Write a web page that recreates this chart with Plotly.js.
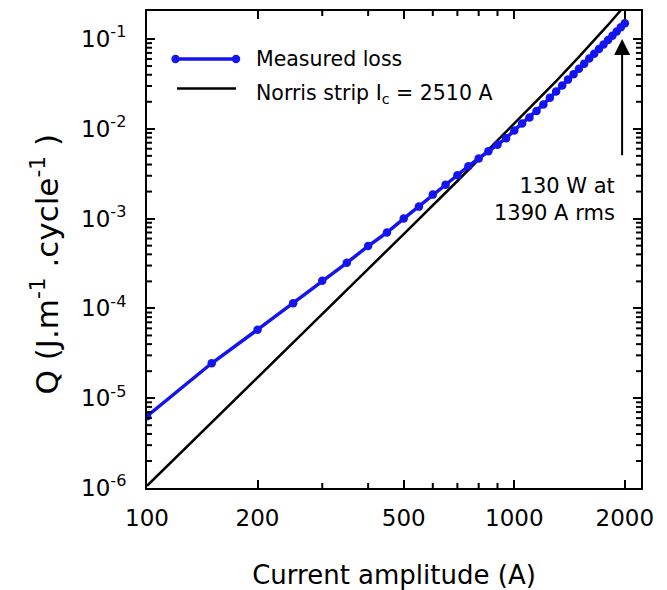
<!DOCTYPE html>
<html><head><meta charset="utf-8">
<script src="https://cdn.plot.ly/plotly-3.0.1.min.js"></script>
<style>html,body{margin:0;padding:0;background:#fff}</style>
</head><body><div id="chart" style="width:667px;height:590px"></div>
<script>
// ---- data ----
const measuredCurrent = [100,150,200,250,300,350,400,450,500,550,600,650,700,750,800,850,900,950,1000,1050,1100,1150,1200,1250,1300,1350,1400,1450,1500,1550,1600,1650,1700,1750,1800,1850,1900,1950,2000];
const measuredLoss = [6.3e-6,2.45e-5,5.8e-5,1.14e-4,2.03e-4,3.22e-4,4.95e-4,7.0e-4,1.0e-3,1.36e-3,1.85e-3,2.39e-3,3.04e-3,3.83e-3,4.68e-3,5.62e-3,6.65e-3,7.87e-3,9.6e-3,1.146e-2,1.34e-2,1.58e-2,1.87e-2,2.22e-2,2.61e-2,3.04e-2,3.53e-2,4.06e-2,4.66e-2,5.32e-2,6.05e-2,6.86e-2,7.72e-2,8.71e-2,9.77e-2,0.109,0.1216,0.135,0.150];
const norrisCurrent = [100,150,200,300,400,500,700,1000,1200,1300,1500,1600,1700,1800,1900,2000];
const norrisLoss = [1.058e-6,5.357e-6,1.6975e-5,8.62e-5,2.7367e-4,6.7205e-4,2.6231e-3,1.1317e-2,2.4236e-2,3.4025e-2,6.3122e-2,8.394e-2,0.11026,0.14339,0.18504,0.23548];
const xTickVals = [100,200,500,1000,2000];
const xTickText = ['100','200','500','1000','2000'];
const xMinorVals = [300,400,600,700,800,900];
const yTickVals = [1e-6,1e-5,1e-4,1e-3,1e-2,1e-1];
const yTickText = ['10<sup>-6</sup>','10<sup>-5</sup>','10<sup>-4</sup>','10<sup>-3</sup>','10<sup>-2</sup>','10<sup>-1</sup>'];
const seriesNames = ['Measured loss','Norris strip I<sub>c</sub> = 2510 A'];
const noteText = '130 W at<br>1390 A rms';
const noteRms = 1390;          // A rms -> arrow at peak current
const arrowTipLoss = 0.1;
const arrowTailLoss = 4.9e-3;
const xTitle = 'Current amplitude (A)';
const yTitle = 'Q (J.m<sup>-1</sup> .cycle<sup>-1</sup> )';

// ---- styles ----
const BLUE = '#1414f0';
const FONT = 'DejaVu Sans';
const X_RANGE = [2, 3.345];
const Y_RANGE = [-6, -0.688];
const MINOR_LEN = 5;
const yMinorVals = [];
for (let d = -6; d <= -1; d++) for (let m = 2; m <= 9; m++) { const v = m * Math.pow(10, d); if (v < 0.2) yMinorVals.push(v); }

const traces = [
  {x: norrisCurrent, y: norrisLoss, type: 'scatter', mode: 'lines', name: seriesNames[1],
   line: {color: '#000', width: 2.5}, hoverinfo: 'x+y'},
  {x: measuredCurrent, y: measuredLoss, type: 'scatter', mode: 'lines+markers', name: seriesNames[0],
   line: {color: BLUE, width: 3.5}, marker: {color: BLUE, size: 8.5}}
];

const axisCommon = {
  type: 'log', showline: true, linecolor: '#000', linewidth: 2, mirror: 'ticks',
  ticks: 'inside', ticklen: 8, tickwidth: 2, tickcolor: '#000',
  showgrid: false, zeroline: false, automargin: false,
  tickfont: {family: FONT, size: 23, color: '#000'}
};

// minor ticks (all four sides) drawn as pixel-sized shapes anchored to the axes
const tickLine = {color: '#000', width: 2};
const minorShapes = [];
xMinorVals.forEach(v => {
  minorShapes.push({type: 'line', xref: 'x', yref: 'paper', ysizemode: 'pixel', yanchor: 0, x0: v, x1: v, y0: 0, y1: MINOR_LEN, line: tickLine});
  minorShapes.push({type: 'line', xref: 'x', yref: 'paper', ysizemode: 'pixel', yanchor: 1, x0: v, x1: v, y0: 0, y1: -MINOR_LEN, line: tickLine});
});
yMinorVals.forEach(v => {
  minorShapes.push({type: 'line', xref: 'paper', yref: 'y', xsizemode: 'pixel', xanchor: 0, y0: v, y1: v, x0: 0, x1: MINOR_LEN, line: tickLine});
  minorShapes.push({type: 'line', xref: 'paper', yref: 'y', xsizemode: 'pixel', xanchor: 1, y0: v, y1: v, x0: 0, x1: -MINOR_LEN, line: tickLine});
});

// legend geometry (paper fractions)
const LX0 = 0.0577, LX1 = 0.1802, LY1 = 0.8994, LY2 = 0.8375, LTX = 0.2166;
const dot = (xa, ya) => ({type: 'circle', xref: 'paper', yref: 'paper', xsizemode: 'pixel', ysizemode: 'pixel',
  xanchor: xa, yanchor: ya, x0: -4.2, x1: 4.2, y0: -4.2, y1: 4.2, fillcolor: BLUE, line: {width: 0}});

const arrowX = Math.log10(noteRms * Math.SQRT2);

const layout = {
  width: 667, height: 590,
  margin: {l: 147, r: 26, t: 11, b: 102},
  paper_bgcolor: '#fff', plot_bgcolor: '#fff',
  showlegend: false,
  font: {family: FONT, color: '#000'},
  xaxis: Object.assign({}, axisCommon, {
    range: X_RANGE, tickmode: 'array', tickvals: xTickVals, ticktext: xTickText,
    ticklabelstandoff: 8,
    title: {text: xTitle, font: {family: FONT, size: 26, color: '#000'}, standoff: 36}
  }),
  yaxis: Object.assign({}, axisCommon, {
    range: Y_RANGE, tickmode: 'array', tickvals: yTickVals, ticktext: yTickText,
    ticklabelstandoff: 14
  }),
  shapes: minorShapes.concat([
    {type: 'line', xref: 'paper', yref: 'paper', x0: LX0, x1: LX1, y0: LY1, y1: LY1, line: {color: BLUE, width: 3.5}},
    dot(LX0, LY1), dot(LX1, LY1),
    {type: 'line', xref: 'paper', yref: 'paper', x0: LX0 + 0.003, x1: LX1, y0: LY2, y1: LY2, line: {color: '#000', width: 2.5}}
  ]),
  annotations: [
    {xref: 'paper', yref: 'paper', x: -0.207, y: 0.47, xanchor: 'center', yanchor: 'middle', textangle: -90, showarrow: false,
     text: yTitle, font: {family: FONT, size: 31, color: '#000'}},
    {xref: 'paper', yref: 'paper', x: LTX, y: LY1, xanchor: 'left', yanchor: 'middle', showarrow: false,
     text: seriesNames[0], font: {family: FONT, size: 20.5, color: '#000'}},
    {xref: 'paper', yref: 'paper', x: LTX, y: LY2 - 0.012, xanchor: 'left', yanchor: 'middle', showarrow: false,
     text: seriesNames[1], font: {family: FONT, size: 20.5, color: '#000'}},
    {xref: 'paper', yref: 'paper', x: 0.9514, y: 0.6038, xanchor: 'right', yanchor: 'middle', align: 'right', showarrow: false,
     text: noteText, font: {family: FONT, size: 21, color: '#000'}},
    {xref: 'x', yref: 'y', axref: 'x', ayref: 'y', x: arrowX, y: Math.log10(arrowTipLoss),
     ax: arrowX, ay: Math.log10(arrowTailLoss), text: '', showarrow: true,
     arrowhead: 2, arrowsize: 1.6, arrowwidth: 2, arrowcolor: '#000'}
  ]
};

Plotly.newPlot('chart', traces, layout, {displayModeBar: false, staticPlot: true});
</script></body></html>
